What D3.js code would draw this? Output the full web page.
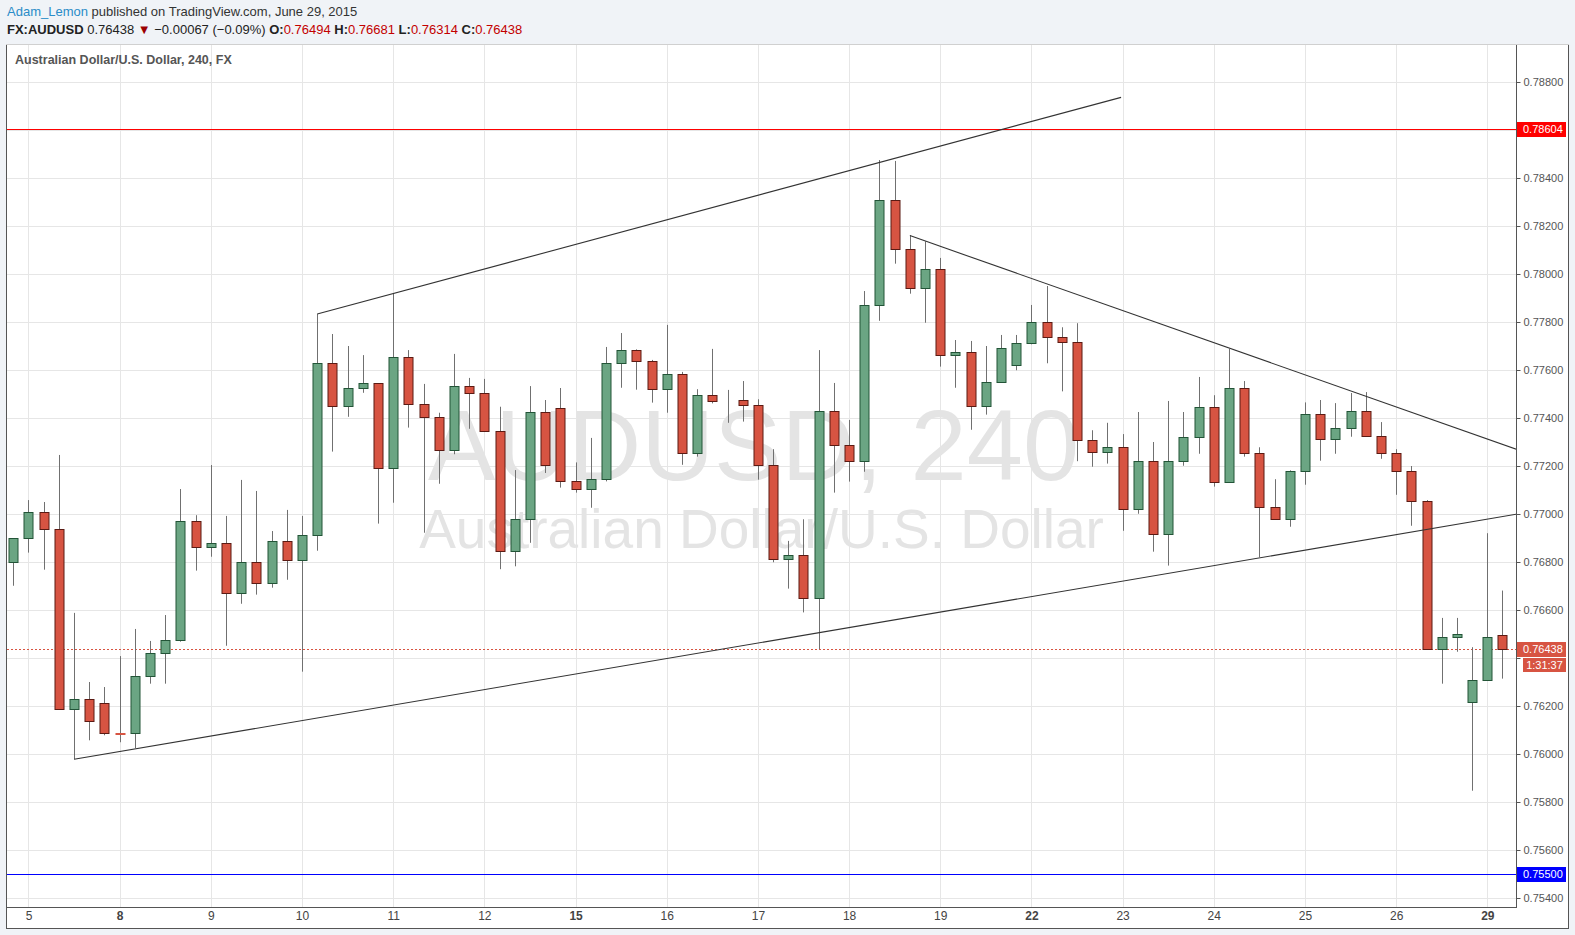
<!DOCTYPE html>
<html><head><meta charset="utf-8">
<script src="https://cdn.jsdelivr.net/npm/d3@7/dist/d3.min.js"></script>
<style>body{margin:0;background:#f0f3f7;} svg{display:block;}</style>
</head><body><svg id="c" width="1575" height="935"></svg>
<script>
// ---- data (4h candles, AUDUSD) ----
const openP  = [0.76799,0.76899,0.77007,0.76936,0.76186,0.76228,0.76211,0.76087,0.76086,0.76324,
0.76420,0.76474,0.76970,0.76861,0.76878,0.76670,0.76799,0.76711,0.76886,0.76807,
0.76911,0.77628,0.77449,0.77524,0.77545,0.77190,0.77653,0.77457,0.77403,0.77265,
0.77532,0.77503,0.77345,0.76845,0.76978,0.77424,0.77440,0.77136,0.77103,0.77145,
0.77628,0.77682,0.77636,0.77520,0.77582,0.77253,0.77495,0.77470,0.77474,0.77453,
0.77203,0.76811,0.76828,0.76649,0.77428,0.77286,0.77220,0.77870,0.78307,0.78103,
0.77940,0.78020,0.77661,0.77674,0.77449,0.77549,0.77620,0.77711,0.77799,0.77736,
0.77715,0.77307,0.77257,0.77278,0.77022,0.77220,0.76918,0.77220,0.77320,0.77445,
0.77132,0.77524,0.77253,0.77028,0.76978,0.77178,0.77415,0.77311,0.77357,0.77428,
0.77324,0.77253,0.77178,0.77053,0.76439,0.76486,0.76218,0.76307,0.76494];
const highP  = [0.76899,0.77058,0.77050,0.77246,0.76588,0.76300,0.76279,0.76408,0.76521,0.76471,
0.76579,0.77104,0.76995,0.77204,0.76992,0.77142,0.77096,0.76929,0.77017,0.76992,
0.77833,0.77750,0.77700,0.77662,0.77545,0.77920,0.77683,0.77542,0.77422,0.77667,
0.77567,0.77563,0.77447,0.77183,0.77533,0.77475,0.77525,0.77215,0.77317,0.77696,
0.77754,0.77686,0.77642,0.77788,0.77592,0.77520,0.77688,0.77517,0.77554,0.77478,
0.77270,0.76888,0.76978,0.77683,0.77546,0.77392,0.77929,0.78475,0.78471,0.78161,
0.78136,0.78067,0.77725,0.77721,0.77700,0.77746,0.77746,0.77871,0.77950,0.77778,
0.77795,0.77349,0.77380,0.77333,0.77425,0.77300,0.77471,0.77425,0.77571,0.77495,
0.77688,0.77554,0.77278,0.77145,0.77182,0.77465,0.77475,0.77462,0.77504,0.77508,
0.77383,0.77270,0.77200,0.77058,0.76567,0.76567,0.76445,0.76920,0.76681];
const lowP   = [0.76701,0.76839,0.76768,0.76186,0.75978,0.76057,0.76078,0.76049,0.76025,0.76293,
0.76293,0.76468,0.76764,0.76822,0.76451,0.76626,0.76664,0.76693,0.76726,0.76343,
0.76847,0.77260,0.77405,0.77505,0.76960,0.77047,0.77360,0.76922,0.77126,0.77249,
0.77355,0.77345,0.76770,0.76782,0.76880,0.77171,0.77110,0.77089,0.77026,0.77136,
0.77526,0.77518,0.77464,0.77422,0.77205,0.77239,0.77461,0.77380,0.77385,0.77143,
0.76799,0.76689,0.76590,0.76437,0.77089,0.77135,0.77176,0.77805,0.78043,0.77918,
0.77797,0.77614,0.77526,0.77351,0.77414,0.77549,0.77599,0.77707,0.77628,0.77511,
0.77220,0.77197,0.77210,0.76930,0.77001,0.76843,0.76785,0.77201,0.77251,0.77114,
0.77132,0.77239,0.76820,0.76978,0.76947,0.77122,0.77222,0.77251,0.77322,0.77324,
0.77230,0.77080,0.76951,0.76439,0.76293,0.76426,0.75847,0.76307,0.76314];
const closeP = [0.76899,0.77007,0.76936,0.76186,0.76228,0.76136,0.76086,0.76085,0.76324,0.76420,
0.76474,0.76970,0.76861,0.76878,0.76670,0.76799,0.76711,0.76886,0.76807,0.76911,
0.77628,0.77449,0.77524,0.77545,0.77190,0.77653,0.77457,0.77403,0.77265,0.77532,
0.77503,0.77345,0.76845,0.76978,0.77424,0.77203,0.77136,0.77103,0.77145,0.77628,
0.77682,0.77636,0.77520,0.77582,0.77253,0.77495,0.77470,0.77472,0.77453,0.77203,
0.76813,0.76828,0.76649,0.77428,0.77286,0.77220,0.77870,0.78307,0.78103,0.77940,
0.78020,0.77661,0.77674,0.77449,0.77549,0.77690,0.77711,0.77799,0.77736,0.77715,
0.77307,0.77257,0.77278,0.77022,0.77220,0.76918,0.77220,0.77320,0.77445,0.77132,
0.77524,0.77253,0.77028,0.76978,0.77178,0.77415,0.77311,0.77357,0.77428,0.77324,
0.77253,0.77178,0.77053,0.76439,0.76486,0.76499,0.76307,0.76486,0.76438];

const dayLabels   = ["5","8","9","10","11","12","15","16","17","18","19","22","23","24","25","26","29"];
const dayStartIdx = [1,7,13,19,25,31,37,43,49,55,61,67,73,79,85,91,97];
const weekStartLabels = ["8","15","22","29"];
const priceTicks  = [0.754,0.756,0.758,0.760,0.762,0.764,0.766,0.768,0.770,0.772,0.774,0.776,0.778,0.780,0.782,0.784,0.786,0.788];
const resistancePrice = 0.78604;
const supportPrice    = 0.75500;
const lastPrice   = 0.76438;
const countdown   = "1:31:37";
// trend lines: [candle index, price] endpoints
const trendUpper   = [[20,0.77833],[72.9,0.78736]];
const trendLower   = [[4,0.75978],[98.9,0.76999]];
const trendFalling = [[59,0.78160],[98.9,0.77270]];

const headerUser = "Adam_Lemon";
const headerRest = " published on TradingView.com, June 29, 2015";
const symbolName = "FX:AUDUSD";
const changeText = "\u22120.00067 (\u22120.09%)";
const ohlcLast = [["O:","0.76494"],["H:","0.76681"],["L:","0.76314"],["C:","0.76438"]];
const paneTitle = "Australian Dollar/U.S. Dollar, 240, FX";
const wmMain = "AUDUSD, 240";
const wmSub = "Australian Dollar/U.S. Dollar";

// ---- layout ----
const svg = d3.select("#c");
const PL=7, PR=1516, PT=45, PB=907;
const x = d3.scaleLinear().domain([0,97]).range([13.3,1487.3]);
const y = d3.scaleLinear().domain([0.788,0.754]).range([82,898]);
const GREEN="#6ba583", GREEN_S="#225437", RED="#d75442", RED_S="#5b1a13";
const sans = "'Liberation Sans', Arial, sans-serif";
const narrow = "'Liberation Sans Narrow', 'Arial Narrow', 'Liberation Sans', sans-serif";

svg.append("rect").attr("width",1575).attr("height",935).attr("fill","#f0f3f7");
svg.append("rect").attr("x",6).attr("y",44).attr("width",1562).attr("height",884).attr("fill","#fff");

// header
const h1 = svg.append("text").attr("x",7).attr("y",16).attr("font-family",sans).attr("font-size",13);
h1.append("tspan").attr("fill","#2a8cc8").text(headerUser);
h1.append("tspan").attr("fill","#333").text(headerRest);
const h2 = svg.append("text").attr("x",7).attr("y",34).attr("font-family",sans).attr("font-size",13).attr("fill","#222");
h2.append("tspan").attr("font-weight","bold").text(symbolName);
h2.append("tspan").text(" " + lastPrice.toFixed(5) + " ");
h2.append("tspan").attr("fill","#9b0000").text("\u25BC");
h2.append("tspan").text(" " + changeText + " ");
ohlcLast.forEach(([k,v])=>{
  h2.append("tspan").attr("font-weight","bold").text(" "+k);
  h2.append("tspan").attr("fill","#c30000").text(v);
});

const defs = svg.append("defs");
defs.append("clipPath").attr("id","plot").append("rect").attr("x",PL).attr("y",PT).attr("width",PR-PL).attr("height",PB-PT);
const plot = svg.append("g").attr("clip-path","url(#plot)");

// grid
plot.selectAll("line.hg").data(priceTicks).join("line").attr("class","hg")
  .attr("x1",PL).attr("x2",PR).attr("y1",d=>Math.round(y(d))+0.5).attr("y2",d=>Math.round(y(d))+0.5)
  .attr("stroke","#e6e6e6");
plot.selectAll("line.vg").data(dayStartIdx).join("line").attr("class","vg")
  .attr("y1",PT).attr("y2",PB).attr("x1",d=>Math.round(x(d))+0.5).attr("x2",d=>Math.round(x(d))+0.5)
  .attr("stroke","#e6e6e6");

// watermark
const cx = (PL+PR)/2;
plot.append("text").attr("x",cx-8).attr("y",480).attr("text-anchor","middle")
  .attr("font-family",sans).attr("font-size",101).attr("fill","#e4e4e4").text(wmMain);
plot.append("text").attr("x",cx).attr("y",548).attr("text-anchor","middle")
  .attr("font-family",sans).attr("font-size",55).attr("fill","#e4e4e4").text(wmSub);

// level lines
plot.append("line").attr("x1",PL).attr("x2",PR).attr("y1",Math.round(y(resistancePrice))+0.5).attr("y2",Math.round(y(resistancePrice))+0.5).attr("stroke","#ff0000");
plot.append("line").attr("x1",PL).attr("x2",PR).attr("y1",Math.round(y(supportPrice))+0.5).attr("y2",Math.round(y(supportPrice))+0.5).attr("stroke","#0000ff");
plot.append("line").attr("x1",PL).attr("x2",PR).attr("y1",Math.round(y(lastPrice))+0.5).attr("y2",Math.round(y(lastPrice))+0.5)
  .attr("stroke",RED).attr("stroke-dasharray","2,2");

// candles
const idx = d3.range(openP.length);
const cg = plot.append("g");
cg.selectAll("line.wick").data(idx).join("line").attr("class","wick")
  .attr("x1",i=>Math.round(x(i))+0.5).attr("x2",i=>Math.round(x(i))+0.5)
  .attr("y1",i=>y(highP[i])).attr("y2",i=>y(lowP[i])).attr("stroke","#707070");
cg.selectAll("rect.body").data(idx).join("rect").attr("class","body")
  .attr("x",i=>Math.round(x(i))-4)
  .attr("width",9)
  .attr("y",i=>Math.round(y(Math.max(openP[i],closeP[i])))+0.5)
  .attr("height",i=>Math.max(0,Math.round(y(Math.min(openP[i],closeP[i])))-Math.round(y(Math.max(openP[i],closeP[i])))))
  .attr("fill",i=>closeP[i]>=openP[i]?GREEN:RED)
  .attr("stroke",i=>{const up=closeP[i]>=openP[i]; const doji=Math.abs(closeP[i]-openP[i])<0.00005; return doji?(up?GREEN_S:RED):(up?GREEN_S:RED_S);})
  .attr("stroke-width",1);

// trend lines
[trendUpper,trendLower,trendFalling].forEach(t=>{
  plot.append("line").attr("x1",x(t[0][0])).attr("y1",y(t[0][1])).attr("x2",x(t[1][0])).attr("y2",y(t[1][1]))
    .attr("stroke","#333").attr("stroke-width",1.1);
});

// frame
svg.append("line").attr("x1",6.5).attr("x2",6.5).attr("y1",44).attr("y2",928).attr("stroke","#555");
svg.append("line").attr("x1",1568.5).attr("x2",1568.5).attr("y1",44).attr("y2",929).attr("stroke","#555");
svg.append("line").attr("x1",6).attr("x2",1569).attr("y1",928.5).attr("y2",928.5).attr("stroke","#555");
svg.append("line").attr("x1",6).attr("x2",1569).attr("y1",44.5).attr("y2",44.5).attr("stroke","#d0d0d0");
svg.append("line").attr("x1",PR+0.5).attr("x2",PR+0.5).attr("y1",PT).attr("y2",PB+1).attr("stroke","#555");
svg.append("line").attr("x1",PL).attr("x2",PR+1).attr("y1",PB+0.5).attr("y2",PB+0.5).attr("stroke","#555");

// pane title
svg.append("text").attr("x",15).attr("y",64).attr("font-family",sans).attr("font-size",12.5)
  .attr("font-weight","bold").attr("fill","#555").text(paneTitle);

// y axis (tick labels hidden under the price labels are not drawn, as in the reference)
const labelPrices = [resistancePrice, supportPrice, lastPrice];
const hiddenTick = d => labelPrices.some(p => Math.abs(y(p)-y(d)) < 13 && (p===lastPrice || Math.abs(y(p)-y(d))<8));
const ya = svg.append("g").attr("transform",`translate(${PR+0.5},0)`)
  .call(d3.axisRight(y).tickValues(priceTicks).tickFormat(d3.format(".5f")).tickSize(4).tickPadding(3));
ya.select(".domain").remove();
ya.selectAll(".tick line").attr("stroke","#555");
ya.selectAll("text").attr("font-family",sans).attr("font-size",11).attr("fill","#555");
ya.selectAll(".tick").filter(d=>hiddenTick(d)).select("text").remove();

// x axis
const xa = svg.append("g").attr("transform",`translate(0,${PB})`)
  .call(d3.axisBottom(x).tickValues(dayStartIdx).tickFormat((d,i)=>dayLabels[i]).tickSize(0).tickPadding(4));
xa.select(".domain").remove();
xa.selectAll("text").attr("font-family",narrow).attr("font-size",12).attr("fill","#444")
  .attr("font-weight",(d,i)=>weekStartLabels.includes(dayLabels[i])?"bold":"normal");

// price labels
function priceLabel(p,bg,txt){
  const yy = Math.round(y(p));
  svg.append("rect").attr("x",PR+1).attr("y",yy-7).attr("width",49).attr("height",15).attr("fill",bg);
  svg.append("text").attr("x",PR+7).attr("y",yy+4).attr("font-family",sans).attr("font-size",11).attr("fill","#fff").text(txt);
}
priceLabel(resistancePrice,"#ff0000",resistancePrice.toFixed(5));
priceLabel(supportPrice,"#0000ff",supportPrice.toFixed(5));
priceLabel(lastPrice,RED,lastPrice.toFixed(5));
{
  const yy = Math.round(y(lastPrice));
  svg.append("rect").attr("x",PR+7).attr("y",yy+9).attr("width",43).attr("height",14).attr("fill",RED);
  svg.append("text").attr("x",PR+28.5).attr("y",yy+20).attr("text-anchor","middle").attr("font-family",sans).attr("font-size",11).attr("fill","#fff").text(countdown);
}
</script></body></html>
